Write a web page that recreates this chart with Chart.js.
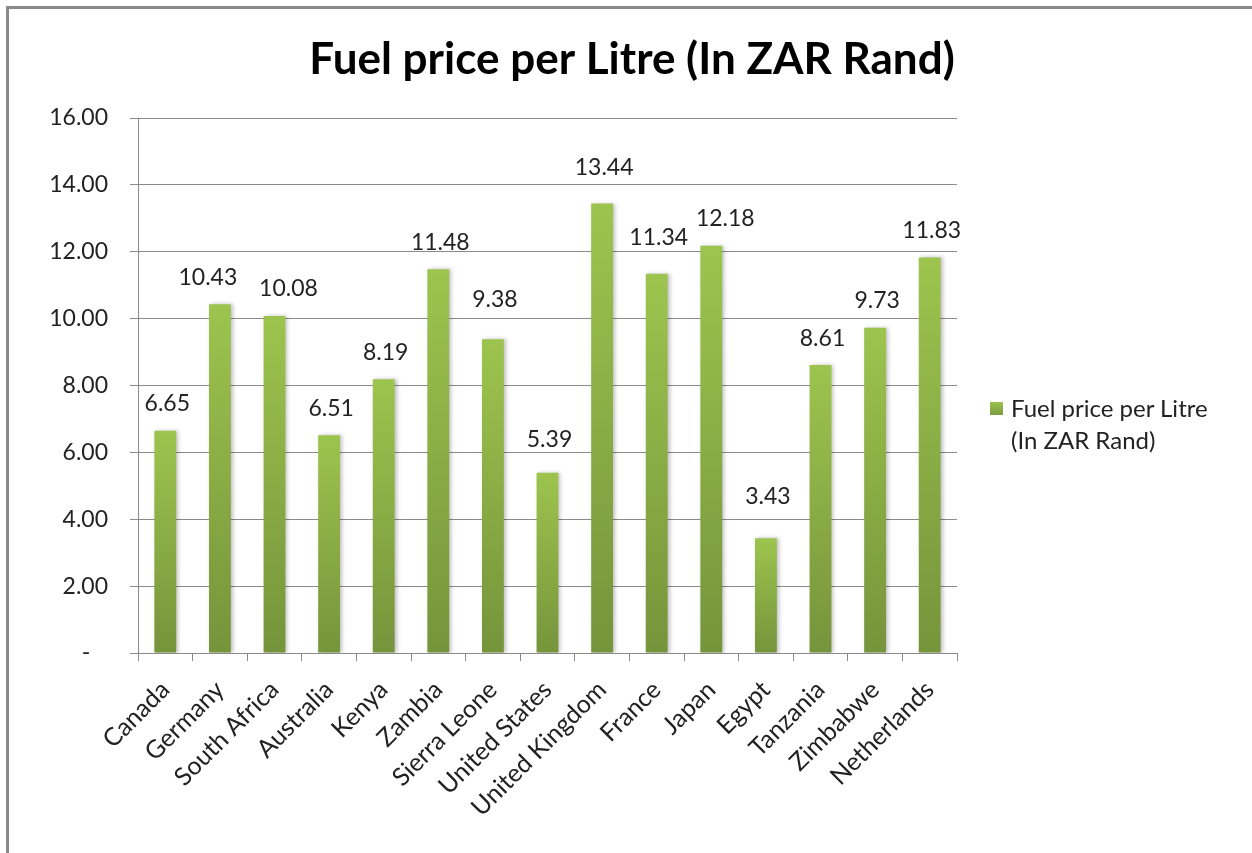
<!DOCTYPE html>
<html lang="en">
<head>
    <meta charset="UTF-8">
    <title>Fuel price per Litre</title>
    <script src="https://cdn.jsdelivr.net/npm/chart.js"></script>
    <style>
        html, body {
            margin: 0;
            padding: 0;
            background: #ffffff;
            overflow: hidden;
        }

        .frame {
            position: absolute;
            left: 6px;
            top: 6px;
            width: 1300px;
            height: 900px;
            border-left: 3px solid #8a8a8a;
            border-top: 3px solid #8a8a8a;
        }

        .chart-container {
            position: absolute;
            left: 0;
            top: 0;
            width: 1252px;
            height: 853px;
        }

        .legend {
            position: absolute;
            left: 990px;
            top: 392px;
            font-family: Lato, 'Open Sans', sans-serif;
            font-size: 24px;
            line-height: 32px;
            color: #222;
            display: flex;
        }

        .legend .box {
            width: 13px;
            height: 13px;
            margin-top: 10px;
            margin-right: 8px;
            background: linear-gradient(#9bc34c, #7b9a3e);
        }
    </style>
</head>
<body>
    <div class="frame"></div>
    <div class="chart-container">
        <canvas id="myChart"></canvas>
    </div>
    <div class="legend">
        <div class="box"></div>
        <div id="legend-text"></div>
    </div>
<script>

    const TITLE = 'Fuel price per Litre (In ZAR Rand)'
    const SERIES_NAME = ['Fuel price per Litre', '(In ZAR Rand)']

    const countries = ['Canada', 'Germany', 'South Africa', 'Australia', 'Kenya', 'Zambia', 'Sierra Leone',
        'United States', 'United Kingdom', 'France', 'Japan', 'Egypt', 'Tanzania', 'Zimbabwe', 'Netherlands']
    const prices = [6.65, 10.43, 10.08, 6.51, 8.19, 11.48, 9.38, 5.39, 13.44, 11.34, 12.18, 3.43, 8.61, 9.73, 11.83]

    const Y_MIN = 0
    const Y_MAX = 16
    const Y_STEP = 2

    // hand-moved data labels in the original: extra [dx, dy] px per label
    const labelNudge = [[0, 0], [-14, 0], [12, 0], [0, 0], [0, 0], [0, 0], [0, -13],
        [0, -6], [0, -9], [0, -9], [12, 0], [0, -15], [0, 0], [0, 0], [0, 0]]

    const FONT = 'Lato, "Open Sans", sans-serif'
    const GRID = '#8a8a8a'

    document.getElementById('legend-text').innerHTML = SERIES_NAME.join('<br>');

    // per-bar vertical gradient, light on top
    function barGradient(context) {
        const chart = context.chart;
        if (!chart.chartArea || context.dataIndex === undefined) return '#8db04a';
        const y = chart.scales.y;
        const top = y.getPixelForValue(prices[context.dataIndex]);
        const bottom = y.getPixelForValue(0);
        const g = chart.ctx.createLinearGradient(0, top, 0, bottom);
        g.addColorStop(0, '#9dc44e');
        g.addColorStop(1, '#76943b');
        return g;
    }

    const barShadow = {
        id: 'barShadow',
        beforeDatasetsDraw(chart) {
            const c = chart.ctx;
            c.save();
            c.shadowColor = 'rgba(0,0,0,0.25)';
            c.shadowBlur = 4;
            c.shadowOffsetX = 2;
            c.shadowOffsetY = 0;
        },
        afterDatasetsDraw(chart) {
            chart.ctx.restore();
        }
    };

    const valueLabels = {
        id: 'valueLabels',
        afterDatasetsDraw(chart) {
            const c = chart.ctx;
            const meta = chart.getDatasetMeta(0);
            c.save();
            c.font = '23px ' + FONT;
            c.fillStyle = '#222';
            c.textAlign = 'center';
            c.textBaseline = 'middle';
            meta.data.forEach((bar, i) => {
                const n = labelNudge[i];
                c.fillText(prices[i].toFixed(2), bar.x + 2 + n[0], bar.y - 27 + n[1]);
            });
            c.restore();
        }
    };

    // title centred on the whole canvas, not just the plot
    const pageTitle = {
        id: 'pageTitle',
        afterDraw(chart) {
            const c = chart.ctx;
            c.save();
            c.font = 'bold 44px ' + FONT;
            c.fillStyle = '#000';
            c.textAlign = 'center';
            c.textBaseline = 'middle';
            c.fillText(TITLE, chart.width / 2 + 6, 60);
            c.restore();
        }
    };

    const config = {
        type: 'bar',
        data: {
            labels: countries,
            datasets: [{
                label: SERIES_NAME.join(' '),
                data: prices,
                backgroundColor: barGradient,
                borderWidth: 0,
                barPercentage: 0.4,
                categoryPercentage: 1.0
            }]
        },
        options: {
            animation: false,
            responsive: true,
            maintainAspectRatio: false,
            events: [],
            layout: {
                padding: { left: 0, right: 295, top: 118, bottom: 0 }
            },
            plugins: {
                legend: { display: false },
                tooltip: { enabled: false },
                title: { display: false }
            },
            scales: {
                x: {
                    grid: {
                        offset: true,
                        drawOnChartArea: false,
                        color: GRID,
                        tickLength: 8
                    },
                    border: { color: GRID },
                    ticks: {
                        color: '#222',
                        font: { family: FONT, size: 25 },
                        minRotation: 45,
                        maxRotation: 45,
                        padding: 14,
                        autoSkip: false
                    },
                    afterFit(scale) { scale.height = 200; }
                },
                y: {
                    min: Y_MIN,
                    max: Y_MAX,
                    grid: { color: GRID, tickLength: 8 },
                    border: { color: GRID },
                    ticks: {
                        stepSize: Y_STEP,
                        color: '#222',
                        font: { family: FONT, size: 23 },
                        padding: 22,
                        callback: (v) => v === 0 ? '-   ' : v.toFixed(2)
                    },
                    afterFit(scale) { scale.width = 138; }
                }
            }
        },
        plugins: [barShadow, valueLabels, pageTitle]
    };

    const ctx = document.getElementById('myChart');
    var chart = new Chart(ctx, config);

</script>
</body>
</html>
